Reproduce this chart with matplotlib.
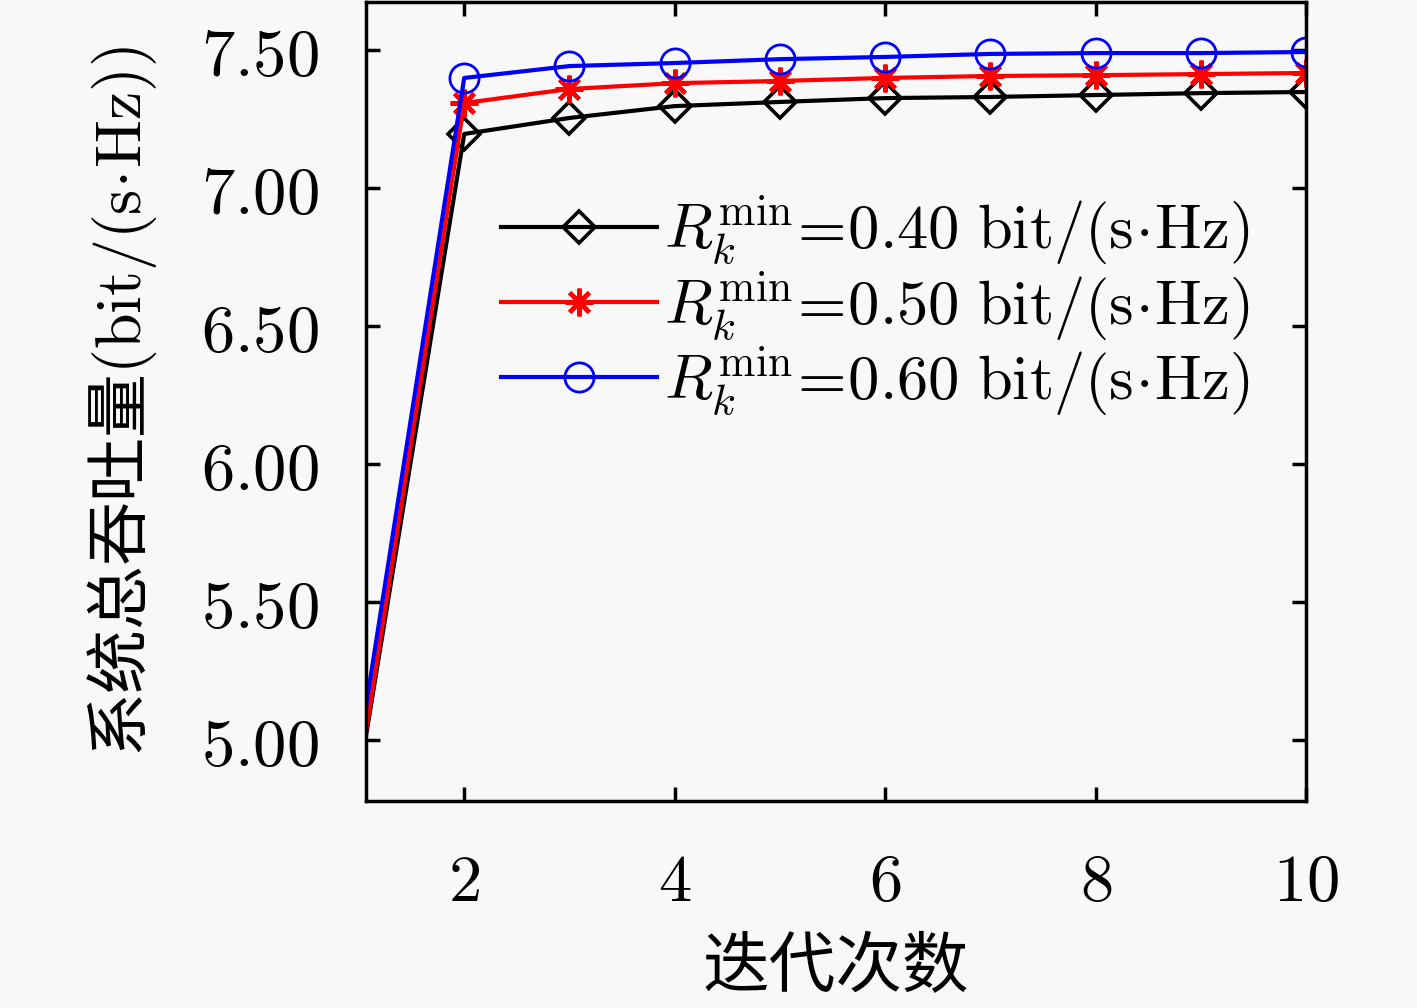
import matplotlib
matplotlib.use("Agg")
import matplotlib.pyplot as plt

plt.rcParams["font.family"] = ["Noto Sans CJK SC", "DejaVu Sans"]
plt.rcParams["mathtext.fontset"] = "cm"
plt.rcParams["axes.unicode_minus"] = False

# 迭代次数
iters = [1, 2, 3, 4, 5, 6, 7, 8, 9, 10]
# 系统总吞吐量
thr_040 = [4.86, 7.196, 7.254, 7.297, 7.312, 7.326, 7.330, 7.337, 7.344, 7.348]
thr_050 = [4.87, 7.308, 7.359, 7.380, 7.388, 7.399, 7.406, 7.409, 7.413, 7.417]
thr_060 = [4.96, 7.399, 7.442, 7.453, 7.467, 7.475, 7.486, 7.489, 7.489, 7.493]
labels = [r"$R_k^{\min}\!=\!0.40\ \mathrm{bit/(s\!\cdot\! Hz)}$",
          r"$R_k^{\min}\!=\!0.50\ \mathrm{bit/(s\!\cdot\! Hz)}$",
          r"$R_k^{\min}\!=\!0.60\ \mathrm{bit/(s\!\cdot\! Hz)}$"]
xticks = [2, 4, 6, 8, 10]
yticks = [5.00, 5.50, 6.00, 6.50, 7.00, 7.50]

bg = "#f8f8f8"
fig = plt.figure(figsize=(14.17, 10.08), dpi=100, facecolor=bg)
ax = fig.add_axes([0.2583, 0.2054, 0.6635, 0.7926], facecolor=bg)

# 第一次迭代的点在坐标轴外，不画标记
ax.plot(iters, thr_040, color="black", lw=3, marker="D", ms=16,
        mfc="none", mec="black", mew=2.6, markevery=slice(1, None), label=labels[0])
ax.plot(iters, thr_050, color="red", lw=3, marker=(8, 2, 0), ms=20,
        mec="red", mew=3, markevery=slice(1, None), label=labels[1])
ax.plot(iters, thr_060, color="blue", lw=3, marker="o", ms=21,
        mfc="none", mec="blue", mew=2, markevery=slice(1, None), label=labels[2])

ax.set_xlim(1.067, 10)
ax.set_ylim(4.78, 7.674)
ax.set_xticks(xticks)
ax.set_xticklabels([f"${t}$" for t in xticks])
ax.set_yticks(yticks)
ax.set_yticklabels([f"${t:.2f}$" for t in yticks])
ax.tick_params(direction="in", length=10, width=2.5, labelsize=48,
               top=True, right=True, pad=34)
for s in ax.spines.values():
    s.set_linewidth(2.5)

ax.set_xlabel("迭代次数", fontsize=48, labelpad=14)
ax.set_ylabel(r"系统总吞吐量$\mathrm{(bit/(s\!\cdot\! Hz))}$", fontsize=46, labelpad=30)

ax.legend(loc="center left", bbox_to_anchor=(0.11, 0.62), frameon=False,
          fontsize=45, handlelength=2.5, labelspacing=0.02, handletextpad=0.12,
          borderpad=0, markerscale=1.0)

fig.savefig("out.png", dpi=100, facecolor=bg)
